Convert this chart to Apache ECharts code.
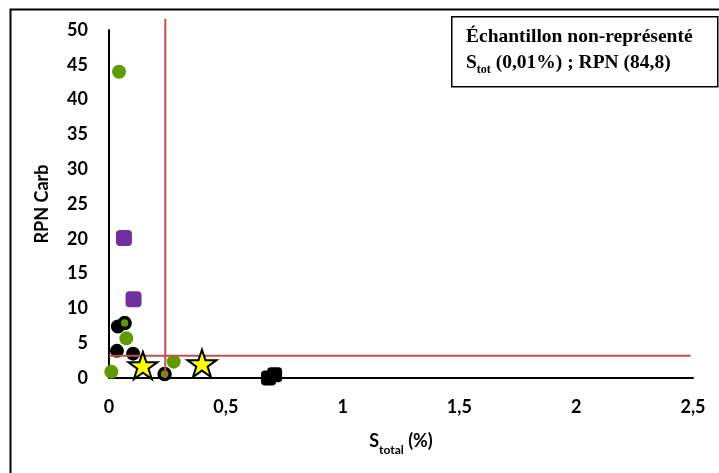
<!DOCTYPE html>
<html>
<head>
<meta charset="utf-8">
<script src="https://cdn.jsdelivr.net/npm/echarts@6/dist/echarts.min.js"></script>
<style>html,body{margin:0;padding:0;background:#fff}#c{width:719px;height:473px}</style>
</head>
<body>
<div id="c"></div>
<script>
// Data
const greenCircles = [[0.043, 44.0], [0.074, 5.7], [0.010, 0.9], [0.277, 2.35]];
const blackCircles = [[0.038, 7.4], [0.034, 3.9], [0.103, 3.5]];
const blackGreenCircles = [[0.067, 7.9], [0.238, 0.57]];
const purpleSquares = [[0.064, 20.1], [0.105, 11.3]];
const blackSquares = [[0.683, 0.0], [0.709, 0.45]];
const stars = [[0.145, 1.8], [0.398, 2.1]];
const verticalThreshold = [[0.241, 0], [0.241, 51.6]];
const horizontalThreshold = [[0, 3.2], [2.49, 3.2]];
const xTickLabels = ['0', '0,5', '1', '1,5', '2', '2,5'];
const yTickLabels = ['0', '5', '10', '15', '20', '25', '30', '35', '40', '45', '50'];

const STAR = 'path://M50,0 L61.8,35.1 L98.9,35.1 L69,56.9 L80.3,91.9 L50,70.2 L19.7,91.9 L31,56.9 L1.1,35.1 L38.2,35.1 Z';
const green = '#5E9A00';
const red = '#C0504D';
const labelFont = {fontFamily: 'Lato', fontWeight: 'bold', fontSize: 18, color: '#000'};

const chart = echarts.init(document.getElementById('c'), null, {renderer: 'canvas'});
chart.setOption({
  animation: false,
  backgroundColor: '#fff',
  grid: {left: 109, right: 26, top: 30, bottom: 95, containLabel: false},
  xAxis: {
    type: 'value', min: 0, max: 2.5, interval: 0.5,
    axisLine: {show: true, onZero: false, lineStyle: {color: '#000', width: 2}},
    axisTick: {show: false},
    splitLine: {show: false},
    axisLabel: Object.assign({margin: 20, formatter: (v) => xTickLabels[Math.round(v / 0.5)]}, labelFont),
    name: '{s|S}{sub|total}{s| (%)}',
    nameLocation: 'middle', nameGap: 54,
    nameTextStyle: {
      rich: {
        s: {fontFamily: 'Lato', fontWeight: 'bold', fontSize: 18, color: '#000', lineHeight: 20, verticalAlign: 'top'},
        sub: {fontFamily: 'Lato', fontWeight: 'bold', fontSize: 12, color: '#000', lineHeight: 14, verticalAlign: 'top', padding: [12, 0, 0, 0]}
      }
    }
  },
  yAxis: {
    type: 'value', min: 0, max: 50, interval: 5,
    axisLine: {show: true, onZero: false, lineStyle: {color: '#000', width: 2}},
    axisTick: {show: false},
    splitLine: {show: false},
    axisLabel: Object.assign({margin: 21, formatter: (v) => yTickLabels[Math.round(v / 5)]}, labelFont),
    name: 'RPN Carb', nameLocation: 'middle', nameRotate: 90, nameGap: 58,
    nameTextStyle: {fontFamily: 'Lato', fontWeight: 'bold', fontSize: 18, color: '#000'}
  },
  series: [
    {type: 'scatter', data: blackCircles, symbol: 'circle', symbolSize: 14, itemStyle: {color: '#000', opacity: 1}, z: 2},
    {type: 'scatter', data: blackGreenCircles, symbol: 'circle', symbolSize: 11, itemStyle: {color: green, borderColor: '#000', borderWidth: 3.5, opacity: 1}, z: 2},
    {type: 'scatter', data: greenCircles, symbol: 'circle', symbolSize: 14, itemStyle: {color: green, opacity: 1}, z: 2},
    {type: 'scatter', data: purpleSquares, symbol: 'roundRect', symbolSize: 16, itemStyle: {color: '#7030A0', opacity: 1}, z: 2},
    {type: 'scatter', data: blackSquares, symbol: 'roundRect', symbolSize: 15, itemStyle: {color: '#000', opacity: 1}, z: 2},
    {type: 'line', data: verticalThreshold, symbol: 'none', clip: false, lineStyle: {color: red, width: 2}, z: 3, silent: true},
    {type: 'line', data: horizontalThreshold, symbol: 'none', clip: false, lineStyle: {color: red, width: 2}, z: 3, silent: true},
    {type: 'scatter', data: stars, symbol: STAR, symbolSize: 29, symbolKeepAspect: true, itemStyle: {color: '#FFFF00', borderColor: '#000', borderWidth: 2, opacity: 1}, z: 4}
  ],
  graphic: [
    {type: 'rect', left: 8, top: 7, shape: {width: 730, height: 480}, style: {fill: 'none', stroke: '#000', lineWidth: 2}, silent: true, z: 10},
    {type: 'rect', left: 451, top: 16, shape: {width: 266, height: 70}, style: {fill: '#fff', stroke: '#000', lineWidth: 1.5}, z: 10},
    {type: 'text', left: 466, top: 27, z: 11,
      style: {
        text: '{t|Échantillon non-représenté}\n{t|S}{sub|tot}{t| (0,01%) ; RPN (84,8)}',
        fill: '#000',
        rich: {
          t: {fontFamily: 'Liberation Serif', fontWeight: 'bold', fontSize: 19.5, fill: '#000', lineHeight: 26, verticalAlign: 'top'},
          sub: {fontFamily: 'Liberation Serif', fontWeight: 'bold', fontSize: 12, fill: '#000', lineHeight: 14, verticalAlign: 'top', padding: [11, 0, 0, 0]}
        }
      }
    }
  ]
});
</script>
</body>
</html>
